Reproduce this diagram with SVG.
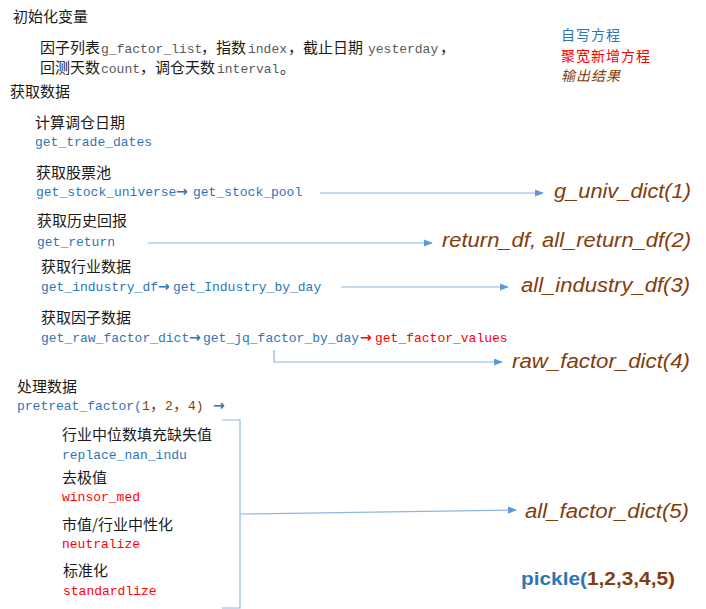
<svg xmlns="http://www.w3.org/2000/svg" width="706" height="609" viewBox="0 0 706 609">
<defs>
<style>
.cj{font-family:"Noto Sans CJK SC","Noto Sans CJK JP",sans-serif;font-size:15px;fill:#1a1a1a}
.mono{font-family:"Liberation Mono","DejaVu Sans Mono",monospace;font-size:13px}
.gray{fill:#595959}
.blue{fill:#2e75b6}
.red{fill:#ff0000}
.brown{fill:#843c0c}
.out{font-family:"Liberation Sans","Noto Sans",sans-serif;font-style:italic;font-size:20px;fill:#843c0c}
.arr{font-family:"DejaVu Sans",sans-serif;font-size:14px;font-weight:bold}
.ln{stroke:#8db6e0;stroke-width:1.2;fill:none}
.leg{font-family:"Noto Sans CJK SC","Noto Sans CJK JP",sans-serif;font-size:14px;letter-spacing:1px}
</style>
<marker id="ah" viewBox="0 0 10 10" refX="9" refY="5" markerWidth="9" markerHeight="9" markerUnits="userSpaceOnUse" orient="auto">
<path d="M0,1 L10,5 L0,9 z" fill="#5b9bd5"/>
</marker>
</defs>
<rect width="706" height="609" fill="#ffffff"/>

<g id="init">
<text x="13" y="22" class="cj">初始化变量</text>
<text y="53"><tspan x="40" class="cj">因子列表</tspan><tspan x="101" class="mono gray">g_factor_list</tspan><tspan x="201" class="cj">，指数</tspan><tspan x="248" class="mono gray">index</tspan><tspan x="288" class="cj">，截止日期</tspan><tspan x="368" class="mono gray">yesterday</tspan><tspan x="440" class="cj">，</tspan></text>
<text y="73"><tspan x="40" class="cj">回测天数</tspan><tspan x="101" class="mono gray">count</tspan><tspan x="140" class="cj">，调仓天数</tspan><tspan x="217" class="mono gray">interval</tspan><tspan x="280" class="cj">。</tspan></text>
</g>

<g id="legend">
<text x="561" y="40" class="leg" fill="#2e75b6">自写方程</text>
<text x="561" y="60.5" class="leg" fill="#ff0000">聚宽新增方程</text>
<text x="561" y="81" class="leg" fill="#843c0c" font-style="italic">输出结果</text>
</g>

<g id="fetch">
<text x="10" y="97" class="cj">获取数据</text>
</g>

<g id="trade-dates">
<text x="35" y="128" class="cj">计算调仓日期</text>
<text x="35" y="146" class="mono blue">get_trade_dates</text>
</g>

<g id="stock-pool">
<text x="36" y="178" class="cj">获取股票池</text>
<text y="196"><tspan x="36" class="mono blue">get_stock_universe</tspan><tspan x="176" class="arr blue">→</tspan><tspan x="193" class="mono blue">get_stock_pool</tspan></text>
</g>

<g id="return">
<text x="37" y="226" class="cj">获取历史回报</text>
<text x="37" y="246" class="mono blue">get_return</text>
</g>

<g id="industry">
<text x="41" y="272" class="cj">获取行业数据</text>
<text y="291"><tspan x="41" class="mono blue">get_industry_df</tspan><tspan x="158" class="arr blue">→</tspan><tspan x="173" class="mono blue">get_Industry_by_day</tspan></text>
</g>

<g id="factor">
<text x="41" y="323" class="cj">获取因子数据</text>
<text y="342"><tspan x="41" class="mono blue">get_raw_factor_dict</tspan><tspan x="189" class="arr blue">→</tspan><tspan x="203" class="mono blue">get_jq_factor_by_day</tspan><tspan x="360" class="arr red">→</tspan><tspan x="375" class="mono red">get_factor_values</tspan></text>
</g>

<g id="process">
<text x="17" y="392" class="cj">处理数据</text>
<text y="410"><tspan x="17" class="mono blue">pretreat_factor(</tspan><tspan x="142" class="mono brown">1</tspan><tspan x="150" class="cj brown">，</tspan><tspan x="165" class="mono brown">2</tspan><tspan x="173" class="cj brown">，</tspan><tspan x="188" class="mono brown">4)</tspan><tspan x="213" class="arr blue">→</tspan></text>
</g>

<g id="steps">
<text x="62" y="440" class="cj">行业中位数填充缺失值</text>
<text x="62" y="459" class="mono blue">replace_nan_indu</text>
<text x="62" y="483" class="cj">去极值</text>
<text x="62" y="501" class="mono red">winsor_med</text>
<text x="62" y="530" class="cj">市值/行业中性化</text>
<text x="62" y="548" class="mono red">neutralize</text>
<text x="63" y="576" class="cj">标准化</text>
<text x="63" y="595" class="mono red">standardlize</text>
</g>

<g id="outputs">
<text x="554" y="198" class="out" textLength="137" lengthAdjust="spacingAndGlyphs">g_univ_dict(1)</text>
<text x="442" y="247" class="out" textLength="249" lengthAdjust="spacingAndGlyphs">return_df, all_return_df(2)</text>
<text x="521" y="292" class="out" textLength="169" lengthAdjust="spacingAndGlyphs">all_industry_df(3)</text>
<text x="512" y="368" class="out" textLength="178" lengthAdjust="spacingAndGlyphs">raw_factor_dict(4)</text>
<text x="525" y="518" class="out" textLength="164" lengthAdjust="spacingAndGlyphs">all_factor_dict(5)</text>
<text x="521" y="585" style="font-family:'Liberation Sans','Noto Sans',sans-serif;font-weight:bold;font-size:19px" textLength="154" lengthAdjust="spacingAndGlyphs"><tspan fill="#2e75b6">pickle(</tspan><tspan fill="#843c0c">1,2,3,4,5)</tspan></text>
</g>

<g id="connectors">
<line class="ln" x1="320" y1="193" x2="543" y2="193" marker-end="url(#ah)"/>
<line class="ln" x1="148" y1="243" x2="432" y2="243" marker-end="url(#ah)"/>
<line class="ln" x1="341" y1="287" x2="508" y2="287" marker-end="url(#ah)"/>
<path class="ln" d="M274,350 V362 H502" marker-end="url(#ah)"/>
<path class="ln" d="M222,420 H240 V608 H222"/>
<line class="ln" x1="241" y1="514" x2="516" y2="510" marker-end="url(#ah)"/>
</g>
</svg>
